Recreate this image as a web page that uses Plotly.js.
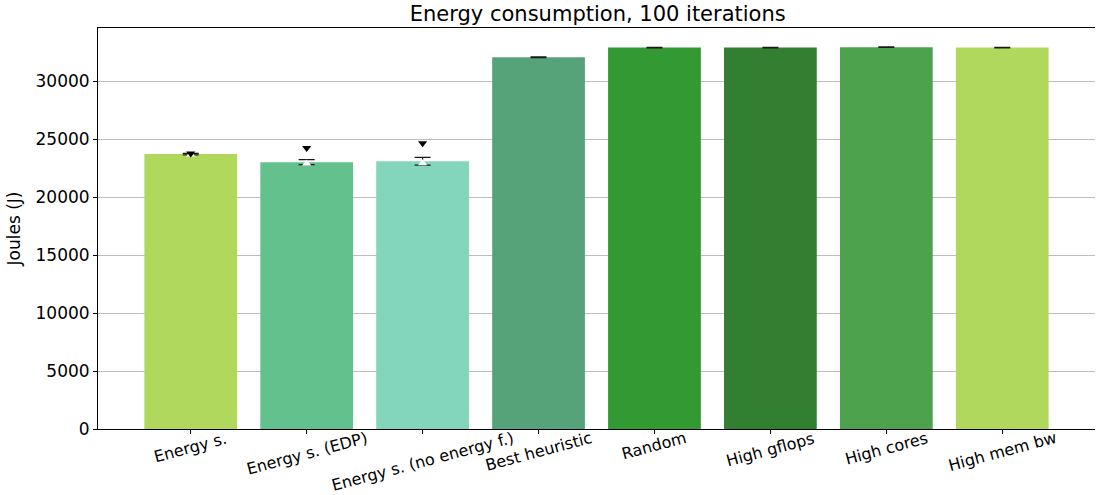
<!DOCTYPE html>
<html>
<head>
<meta charset="utf-8">
<script src="https://cdn.plot.ly/plotly-3.0.1.min.js"></script>
<style>
  html, body { margin: 0; padding: 0; background: #ffffff; }
  #chart { width: 1096px; height: 495px; }
</style>
</head>
<body>
<div id="chart"></div>
<script>
// Energy used by each scheduling strategy over 100 iterations
const strategies = ["Energy s.", "Energy s. (EDP)", "Energy s. (no energy f.)", "Best heuristic",
                    "Random", "High gflops", "High cores", "High mem bw"];
const meanJoules = [23700, 23000, 23080, 32050, 32880, 32880, 32920, 32880];
const stdJoules  = [60, 215, 330, 30, 30, 30, 30, 30];
const maxJoules  = [23740, 24220, 24630, null, null, null, null, null];
const minJoules  = [23660, 22880, 22900, null, null, null, null, null];
const barColors  = ["#b0d85c", "#62c18c", "#83d6bb", "#56a37a",
                    "#339933", "#327f32", "#4da24d", "#b0d85c"];

const font = "DejaVu Sans, sans-serif";

const traces = [
  {
    type: "bar",
    x: strategies,
    y: meanJoules,
    marker: { color: barColors, line: { width: 0 } },
    error_y: { type: "data", array: stdJoules, visible: true, color: "#1a1a1a", thickness: 1.2, width: 8 },
    hoverinfo: "x+y"
  },
  {
    type: "scatter",
    mode: "markers",
    x: strategies,
    y: minJoules,
    marker: { symbol: "triangle-up", size: 8, color: "#ffffff", line: { width: 0 } },
    hoverinfo: "y"
  },
  {
    type: "scatter",
    mode: "markers",
    x: strategies,
    y: maxJoules,
    marker: { symbol: "triangle-down", size: 8, color: "#000000", line: { width: 0 } },
    hoverinfo: "y"
  }
];

// Rotated category labels, centred under each bar
const labelNotes = strategies.map(s => ({
  x: s, xref: "x",
  y: -0.012, yref: "paper",
  yanchor: "top", xanchor: "center",
  yshift: 8,
  text: s, showarrow: false, textangle: -15,
  font: { family: font, size: 16, color: "#000000" }
}));

const layout = {
  width: 1096,
  height: 495,
  margin: { l: 98, r: 1, t: 28, b: 66 },
  paper_bgcolor: "#ffffff",
  plot_bgcolor: "#ffffff",
  showlegend: false,
  bargap: 0.2,
  font: { family: font, color: "#000000" },
  title: {
    text: "Energy consumption, 100 iterations",
    font: { family: font, size: 21, color: "#000000" },
    x: 0.5454, xanchor: "center",
    y: 0.972, yanchor: "middle", yref: "container"
  },
  xaxis: {
    type: "category",
    range: [-0.8, 7.8],
    showticklabels: false,
    ticks: "outside", ticklen: 4, tickcolor: "#000000", tickwidth: 1,
    showline: true, linecolor: "#000000", linewidth: 1, mirror: true,
    showgrid: false, zeroline: false, fixedrange: true
  },
  yaxis: {
    range: [0, 34570],
    tickvals: [0, 5000, 10000, 15000, 20000, 25000, 30000],
    ticktext: ["0", "5000", "10000", "15000", "20000", "25000", "30000"],
    ticks: "outside", ticklen: 4, tickcolor: "#000000", tickwidth: 1,
    tickfont: { family: font, size: 17, color: "#000000" },
    showline: true, linecolor: "#000000", linewidth: 1,
    showgrid: true, gridcolor: "#bdbdbd", gridwidth: 1,
    zeroline: false,
    title: { text: "Joules (J)", font: { family: font, size: 17, color: "#000000" }, standoff: 10 },
    fixedrange: true
  },
  annotations: labelNotes
};

Plotly.newPlot("chart", traces, layout, { displayModeBar: false, staticPlot: true });
</script>
</body>
</html>
